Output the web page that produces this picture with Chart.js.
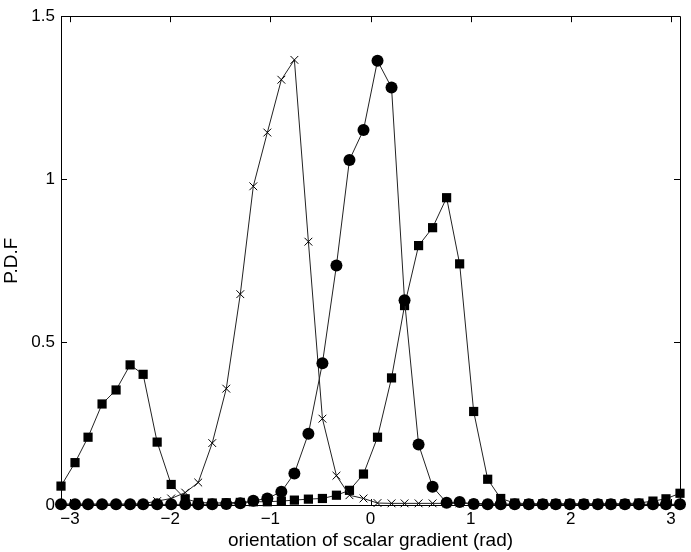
<!DOCTYPE html>
<html>
<head>
<meta charset="utf-8">
<script src="https://cdn.jsdelivr.net/npm/chart.js@4.4.1/dist/chart.umd.min.js"></script>
<style>
  html, body { margin: 0; padding: 0; background: #fff; }
  #pdfChart { display: block; }
</style>
</head>
<body>
<canvas id="pdfChart" width="691" height="552"></canvas>
<script>
// bin centres (rad)
const angles = [-3.09, -2.95, -2.82, -2.68, -2.54, -2.40, -2.27, -2.13, -1.99, -1.85,
  -1.72, -1.58, -1.44, -1.30, -1.17, -1.03, -0.89, -0.76, -0.62, -0.48,
  -0.34, -0.21, -0.07, 0.07, 0.21, 0.34, 0.48, 0.62, 0.76, 0.89,
  1.03, 1.17, 1.30, 1.44, 1.58, 1.72, 1.85, 1.99, 2.13, 2.27,
  2.40, 2.54, 2.68, 2.82, 2.95, 3.09];

// square markers
const pdfSquares = [0.058, 0.130, 0.208, 0.310, 0.353, 0.430, 0.401, 0.193, 0.063, 0.019,
  0.008, 0.006, 0.007, 0.008, 0.010, 0.010, 0.012, 0.015, 0.018, 0.020,
  0.030, 0.045, 0.095, 0.208, 0.390, 0.612, 0.796, 0.851, 0.943, 0.740,
  0.287, 0.079, 0.020, 0.006, 0.004, 0.004, 0.004, 0.004, 0.004, 0.004,
  0.004, 0.004, 0.006, 0.012, 0.019, 0.036];

// cross markers
const pdfCrosses = [0.003, 0.003, 0.003, 0.003, 0.003, 0.003, 0.004, 0.012, 0.020, 0.038,
  0.069, 0.190, 0.357, 0.647, 0.978, 1.143, 1.305, 1.366, 0.808, 0.265,
  0.090, 0.030, 0.020, 0.006, 0.005, 0.005, 0.005, 0.005, 0.005, 0.005,
  0.005, 0.004, 0.003, 0.002, 0.002, 0.002, 0.002, 0.002, 0.002, 0.002,
  0.002, 0.002, 0.002, 0.002, 0.002, 0.002];

// circle markers
const pdfCircles = [0.002, 0.002, 0.002, 0.002, 0.002, 0.002, 0.002, 0.002, 0.002, 0.002,
  0.002, 0.002, 0.003, 0.005, 0.013, 0.020, 0.041, 0.097, 0.219, 0.435,
  0.735, 1.059, 1.151, 1.363, 1.281, 0.628, 0.186, 0.056, 0.007, 0.009,
  0.003, 0.002, 0.002, 0.002, 0.002, 0.002, 0.002, 0.002, 0.002, 0.002,
  0.002, 0.002, 0.002, 0.002, 0.002, 0.002];

const xTicks = [-3, -2, -1, 0, 1, 2, 3];
const yTicks = [0, 0.5, 1, 1.5];

const xTitle = 'orientation of scalar gradient (rad)';
const yTitle = 'P.D.F';

function toPoints(vals) {
  return vals.map((v, i) => ({ x: angles[i], y: v }));
}

// MATLAB style box with inward ticks on all four sides
const boxPlugin = {
  id: 'boxPlugin',
  beforeDatasetsDraw(chart) {
    const ctx = chart.ctx;
    const a = chart.chartArea;
    const xs = chart.scales.x;
    const ys = chart.scales.y;
    const len = 6;
    ctx.save();
    ctx.strokeStyle = '#000';
    ctx.lineWidth = 1;
    ctx.beginPath();
    ctx.rect(Math.round(a.left) + 0.5, Math.round(a.top) + 0.5,
      Math.round(a.right - a.left), Math.round(a.bottom - a.top));
    xs.ticks.forEach(t => {
      const px = Math.round(xs.getPixelForValue(t.value)) + 0.5;
      ctx.moveTo(px, a.bottom); ctx.lineTo(px, a.bottom - len);
      ctx.moveTo(px, a.top); ctx.lineTo(px, a.top + len);
    });
    ys.ticks.forEach(t => {
      const py = Math.round(ys.getPixelForValue(t.value)) + 0.5;
      ctx.moveTo(a.left, py); ctx.lineTo(a.left + len, py);
      ctx.moveTo(a.right, py); ctx.lineTo(a.right - len, py);
    });
    ctx.stroke();
    ctx.restore();
  }
};

const font = 'Liberation Sans, Arial, Helvetica, sans-serif';

new Chart(document.getElementById('pdfChart').getContext('2d'), {
  type: 'scatter',
  data: {
    datasets: [
      {
        label: 'squares',
        data: toPoints(pdfSquares),
        showLine: true,
        borderColor: '#222',
        borderWidth: 1,
        pointStyle: 'rect',
        pointRadius: 6.5,
        pointBackgroundColor: '#000',
        pointBorderColor: '#000',
        pointBorderWidth: 0,
        clip: false,
        order: 3
      },
      {
        label: 'crosses',
        data: toPoints(pdfCrosses),
        showLine: true,
        borderColor: '#222',
        borderWidth: 1,
        pointStyle: 'crossRot',
        pointRadius: 5.5,
        pointBorderColor: '#000',
        pointBorderWidth: 1,
        clip: false,
        order: 2
      },
      {
        label: 'circles',
        data: toPoints(pdfCircles),
        showLine: true,
        borderColor: '#222',
        borderWidth: 1,
        pointStyle: 'circle',
        pointRadius: 6,
        pointBackgroundColor: '#000',
        pointBorderColor: '#000',
        pointBorderWidth: 0,
        clip: false,
        order: 1
      }
    ]
  },
  options: {
    responsive: false,
    animation: false,
    devicePixelRatio: 1,
    layout: { padding: { left: 0, right: 11, top: 14, bottom: 0 } },
    plugins: {
      legend: { display: false },
      tooltip: { enabled: false }
    },
    elements: { line: { tension: 0 } },
    scales: {
      x: {
        type: 'linear',
        min: -3.09,
        max: 3.09,
        afterBuildTicks: s => { s.ticks = xTicks.map(v => ({ value: v })); },
        afterFit: s => { s.height = 47; },
        grid: { display: false, drawTicks: false },
        border: { display: false },
        ticks: {
          color: '#000',
          padding: 4,
          font: { family: font, size: 17 },
          callback: v => (v < 0 ? '\u2212' + Math.abs(v) : String(v))
        },
        title: {
          display: true,
          text: xTitle,
          color: '#000',
          padding: { top: 0, bottom: 0 },
          font: { family: font, size: 19 }
        }
      },
      y: {
        type: 'linear',
        min: 0,
        max: 1.5,
        afterBuildTicks: s => { s.ticks = yTicks.map(v => ({ value: v })); },
        afterFit: s => { s.width = 61; },
        grid: { display: false, drawTicks: false },
        border: { display: false },
        ticks: {
          color: '#000',
          padding: 6,
          font: { family: font, size: 17 },
          callback: v => String(v)
        },
        title: {
          display: true,
          text: yTitle,
          color: '#000',
          padding: { top: 0, bottom: 0 },
          font: { family: font, size: 19 }
        }
      }
    }
  },
  plugins: [boxPlugin]
});
</script>
</body>
</html>
